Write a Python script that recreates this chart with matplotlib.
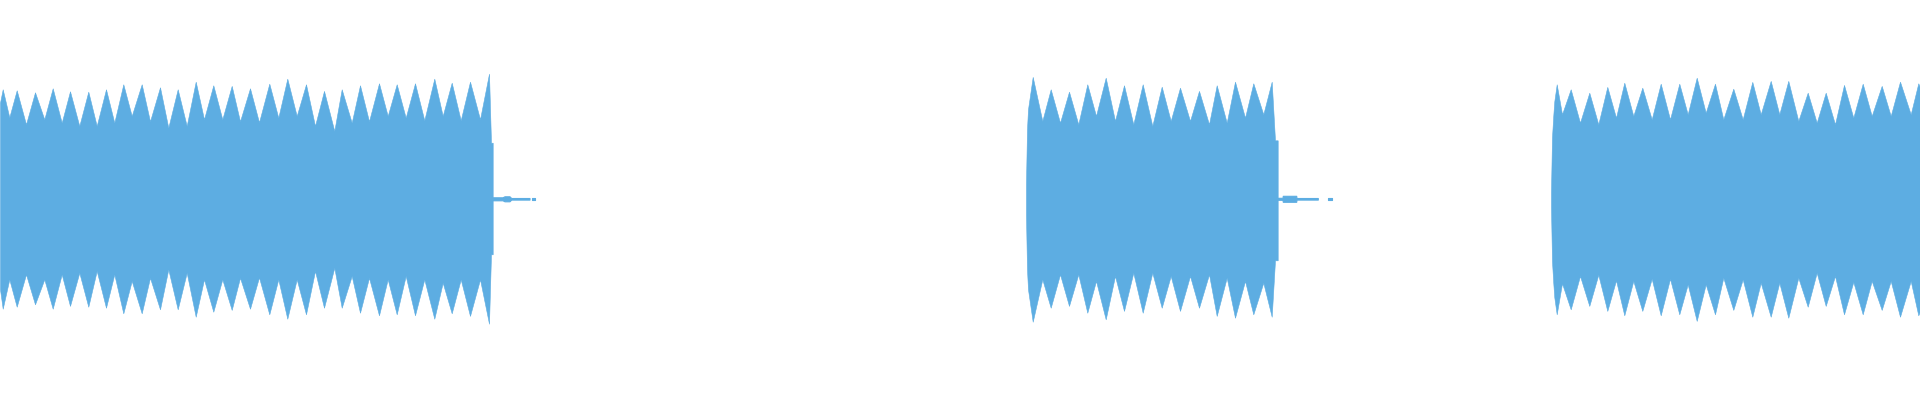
import numpy as np
import matplotlib
matplotlib.use("Agg")
import matplotlib.pyplot as plt

# ---- data: envelope of the waveform (time in ms, normalised amplitude) ----
# burst 1
b1_time = [0, 2.7, 9.3, 16.7, 26, 35, 44.3, 52.7, 61.7, 70, 79.3, 88.3, 96.7, 106, 114.3,
           123.3, 131.7, 141.7, 150, 160, 168.3, 177.7, 186.7, 195.7, 204, 213.3, 222.3,
           231.7, 240, 250, 259, 269.3, 278.3, 287.3, 296.7, 306, 315, 324, 334.3, 341.7,
           351.7, 360, 369, 379, 387.7, 396.7, 405.7, 415, 424.3, 434.3, 442.7, 451.7,
           460.7, 470, 480, 489, 491, 492.7]
b1_max = [0.483, 0.55, 0.41, 0.545, 0.375, 0.535, 0.40, 0.555, 0.383, 0.54, 0.367, 0.538,
          0.367, 0.55, 0.383, 0.575, 0.417, 0.575, 0.39, 0.56, 0.358, 0.55, 0.367, 0.588,
          0.40, 0.57, 0.40, 0.567, 0.39, 0.555, 0.385, 0.578, 0.408, 0.603, 0.417, 0.575,
          0.367, 0.542, 0.342, 0.55, 0.383, 0.57, 0.39, 0.58, 0.417, 0.575, 0.408, 0.58,
          0.395, 0.603, 0.417, 0.583, 0.395, 0.588, 0.40, 0.628, 0.283, 0.283]
b1_min = [-0.45, -0.547, -0.40, -0.537, -0.375, -0.525, -0.40, -0.547, -0.375, -0.533,
          -0.367, -0.537, -0.358, -0.542, -0.375, -0.57, -0.408, -0.57, -0.392, -0.55,
          -0.35, -0.55, -0.367, -0.587, -0.40, -0.562, -0.40, -0.553, -0.392, -0.547,
          -0.39, -0.575, -0.40, -0.597, -0.40, -0.575, -0.358, -0.542, -0.342, -0.542,
          -0.383, -0.567, -0.392, -0.58, -0.40, -0.575, -0.383, -0.58, -0.40, -0.597,
          -0.417, -0.57, -0.40, -0.583, -0.40, -0.622, -0.275, -0.275]
tail1_time = [493.3, 503, 505, 510, 511.7, 530, 531, 531.7, 535]
tail1_amp = [0.0075, 0.0075, 0.0125, 0.0125, 0.004, 0.004, np.nan, 0.004, 0.004]

# burst 2
b2_time = [1026, 1027, 1028, 1032.7, 1042.3, 1050.7, 1060, 1069, 1078.3, 1087.3, 1096,
           1105.7, 1115, 1124, 1133.3, 1142.7, 1152.3, 1161.7, 1170.7, 1180, 1190, 1199,
           1209, 1216.7, 1226.7, 1235, 1245, 1253.3, 1263.3, 1271.7, 1275, 1277.7]
b2_max = [0.08, 0.35, 0.45, 0.612, 0.392, 0.55, 0.383, 0.538, 0.375, 0.575, 0.417, 0.608,
          0.392, 0.57, 0.375, 0.575, 0.367, 0.563, 0.392, 0.558, 0.392, 0.542, 0.375, 0.57,
          0.383, 0.588, 0.408, 0.58, 0.425, 0.588, 0.295, 0.295]
b2_min = [-0.08, -0.35, -0.45, -0.612, -0.40, -0.542, -0.375, -0.533, -0.375, -0.567,
          -0.408, -0.60, -0.383, -0.558, -0.367, -0.567, -0.367, -0.542, -0.383, -0.558,
          -0.383, -0.542, -0.375, -0.583, -0.392, -0.592, -0.408, -0.575, -0.417, -0.587,
          -0.305, -0.305]
tail2_time = [1278.3, 1283, 1283.3, 1296.7, 1297, 1318.3, 1320, 1327.7, 1331.7]
tail2_amp = [0.005, 0.005, 0.015, 0.015, 0.004, 0.004, np.nan, 0.004, 0.004]

# burst 3
b3_time = [1551, 1552, 1553.3, 1554.3, 1556.7, 1562, 1570.7, 1580, 1589.3, 1598.3, 1607.3,
           1616, 1624.3, 1633.3, 1642.3, 1651.7, 1660.7, 1670, 1679.3, 1687.7, 1696.7,
           1705.7, 1715, 1723.3, 1733.3, 1742.7, 1752.3, 1760.7, 1770.7, 1779.3, 1788.3,
           1798.3, 1807.7, 1816.7, 1825.7, 1835, 1844, 1853.3, 1862.7, 1871.7, 1881.7,
           1890.7, 1900, 1910.7, 1918.3, 1920]
b3_max = [0.04, 0.31, 0.42, 0.49, 0.575, 0.425, 0.55, 0.383, 0.533, 0.375, 0.562, 0.408,
          0.583, 0.417, 0.558, 0.40, 0.578, 0.40, 0.578, 0.425, 0.608, 0.433, 0.578, 0.40,
          0.553, 0.40, 0.587, 0.425, 0.592, 0.425, 0.592, 0.392, 0.533, 0.383, 0.533,
          0.375, 0.572, 0.408, 0.578, 0.417, 0.567, 0.417, 0.588, 0.425, 0.58, 0.56]
b3_min = [-0.04, -0.31, -0.42, -0.49, -0.575, -0.42, -0.55, -0.383, -0.533, -0.377,
          -0.558, -0.405, -0.58, -0.408, -0.558, -0.397, -0.58, -0.397, -0.575, -0.425,
          -0.608, -0.425, -0.575, -0.392, -0.553, -0.40, -0.587, -0.417, -0.587, -0.417,
          -0.592, -0.392, -0.537, -0.367, -0.533, -0.383, -0.575, -0.413, -0.575, -0.408,
          -0.553, -0.408, -0.587, -0.408, -0.58, -0.56]

COLOR = "#5DADE2"

fig = plt.figure(figsize=(19.2, 4.0), dpi=100)
ax = fig.add_axes([0, 0, 1, 1])

for t, hi, lo in [(b1_time, b1_max, b1_min), (b2_time, b2_max, b2_min), (b3_time, b3_max, b3_min)]:
    ax.fill_between(t, lo, hi, color=COLOR, linewidth=0.4, edgecolor=COLOR)

for t, a in [(tail1_time, tail1_amp), (tail2_time, tail2_amp)]:
    a = np.array(a, dtype=float)
    ax.fill_between(t, -a, a, color=COLOR, linewidth=0.8, edgecolor=COLOR)

ax.set_xlim(0, 1920)
ax.set_ylim(-1.0035, 0.9965)
ax.axis("off")
fig.savefig("out.png", dpi=100, facecolor="white")
